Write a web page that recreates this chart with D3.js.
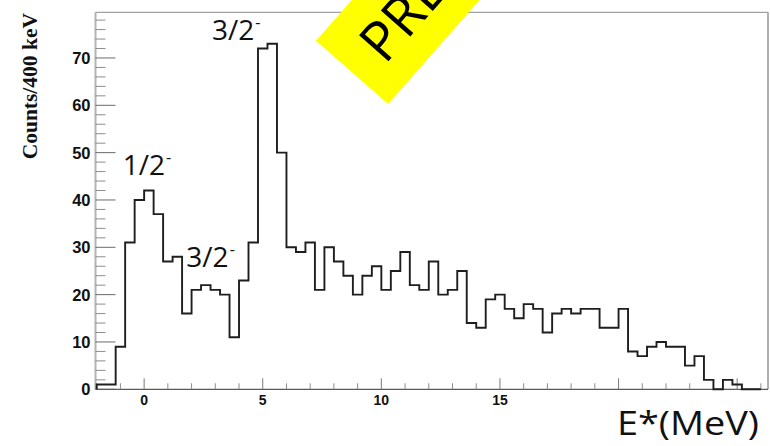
<!DOCTYPE html>
<html>
<head>
<meta charset="utf-8">
<script src="https://cdn.jsdelivr.net/npm/d3@7"></script>
<style>
  html, body { margin: 0; padding: 0; background: #fff; overflow: hidden; }
  svg { display: block; }
</style>
</head>
<body>
<svg id="chart" width="770" height="446"></svg>
<script>
// Excitation-energy spectrum, 0.4 MeV bins starting at -2.0 MeV
const firstEdge = -2.0;
const binWidth = 0.4;
const counts = [
  1, 1, 9, 31, 40, 42, 37, 27, 28, 16,
  21, 22, 21, 20, 11, 23, 31, 72, 73, 50,
  30, 29, 31, 21, 30, 27, 24, 20, 24, 26,
  21, 25, 29, 22, 21, 27, 20, 21, 25, 14,
  13, 19, 20, 17, 15, 18, 17, 12, 16, 17,
  16, 17, 17, 13, 13, 17, 8, 7, 9, 10,
  9, 9, 5, 7, 2, 0, 2, 1, 0, 0
];

// Axis ticks
const xMajorTicks = [0, 5, 10, 15, 20, 25];
const xTickLabels = [0, 5, 10, 15];
const yMajorTicks = [0, 10, 20, 30, 40, 50, 60, 70];

// State assignments written next to the peaks
const stateTexts = ["1/2", "3/2", "3/2"];
const stateAnchorE = [-0.9, 2.86, 1.78];   // MeV
const stateAnchorC = [45.3, 73.8, 25.8];   // counts

const svg = d3.select("#chart");

const x = d3.scaleLinear().domain([-2.05, 26.3]).range([95.5, 768]);
const y = d3.scaleLinear().domain([0, 79.65]).range([389.3, 12.3]);

// Frame (top and right)
svg.append("line").attr("x1", x.range()[0]).attr("x2", x.range()[1])
  .attr("y1", y.range()[1]).attr("y2", y.range()[1])
  .attr("stroke", "#8a8a8a").attr("stroke-width", 1);
svg.append("line").attr("x1", 768).attr("x2", 768)
  .attr("y1", y.range()[1]).attr("y2", y.range()[0])
  .attr("stroke", "#a8a8a8").attr("stroke-width", 1.8);

// Y axis: line, major and minor ticks pointing into the plot
const yAxisG = svg.append("g");
yAxisG.append("line").attr("x1", 95.5).attr("x2", 95.5)
  .attr("y1", y.range()[1]).attr("y2", y.range()[0])
  .attr("stroke", "#b4b4b4").attr("stroke-width", 2);
const yMinor = d3.range(0, 80, 2).filter(v => v % 10 !== 0);
yAxisG.selectAll("line.ymin").data(yMinor).join("line")
  .attr("class", "ymin")
  .attr("x1", 95.5).attr("x2", 105.5)
  .attr("y1", d => y(d)).attr("y2", d => y(d))
  .attr("stroke", "#8c8c8c").attr("stroke-width", 1);
yAxisG.selectAll("line.ymaj").data(yMajorTicks).join("line")
  .attr("class", "ymaj")
  .attr("x1", 95.5).attr("x2", 115.5)
  .attr("y1", d => y(d)).attr("y2", d => y(d))
  .attr("stroke", "#6a6a6a").attr("stroke-width", 1);
yAxisG.selectAll("text").data(yMajorTicks).join("text")
  .attr("x", 90.5).attr("y", d => y(d) + 6)
  .attr("text-anchor", "end")
  .attr("font-family", "'Liberation Sans', Arial, sans-serif")
  .attr("font-weight", "bold").attr("font-size", 16.5)
  .attr("fill", "#111")
  .text(d => d);

// X axis
const xAxisG = svg.append("g");
xAxisG.append("line").attr("x1", x.range()[0]).attr("x2", x.range()[1])
  .attr("y1", 389.3).attr("y2", 389.3)
  .attr("stroke", "#5a5a5a").attr("stroke-width", 1.2);
const xMinor = d3.range(-2, 27, 1).filter(v => v % 5 !== 0);
xAxisG.selectAll("line.xmin").data(xMinor).join("line")
  .attr("class", "xmin")
  .attr("x1", d => x(d)).attr("x2", d => x(d))
  .attr("y1", 389.3).attr("y2", 383.3)
  .attr("stroke", "#8c8c8c").attr("stroke-width", 1);
xAxisG.selectAll("line.xmaj").data(xMajorTicks).join("line")
  .attr("class", "xmaj")
  .attr("x1", d => x(d)).attr("x2", d => x(d))
  .attr("y1", 389.3).attr("y2", 378.3)
  .attr("stroke", "#7a7a7a").attr("stroke-width", 1);
xAxisG.selectAll("text").data(xTickLabels).join("text")
  .attr("x", d => x(d)).attr("y", 405)
  .attr("text-anchor", "middle")
  .attr("font-family", "'Liberation Sans', Arial, sans-serif")
  .attr("font-weight", "bold").attr("font-size", 14)
  .attr("fill", "#111")
  .text(d => d);

// Histogram outline as a step path
const bins = counts.map((c, i) => ({ lo: firstEdge + i * binWidth, hi: firstEdge + (i + 1) * binWidth, c }));
const pts = [[x(bins[0].lo), y(0)]];
bins.forEach(b => { pts.push([x(b.lo), y(b.c)]); pts.push([x(b.hi), y(b.c)]); });
pts.push([x(bins[bins.length - 1].hi), y(0)]);
svg.append("path")
  .attr("d", d3.line()(pts))
  .attr("fill", "none")
  .attr("stroke", "#1e1e1e")
  .attr("stroke-width", 1.9)
  .attr("stroke-linejoin", "miter");

// Y-axis title
svg.append("text")
  .attr("transform", "translate(36.5,13) rotate(-90)")
  .attr("text-anchor", "end")
  .attr("font-family", "'Liberation Serif', 'Times New Roman', serif")
  .attr("font-weight", "bold").attr("font-size", 21.5)
  .attr("fill", "#111")
  .text("Counts/400 keV");

// X-axis title
svg.append("text")
  .attr("x", 759).attr("y", 434.5)
  .attr("text-anchor", "end")
  .attr("font-family", "'Open Sans', sans-serif")
  .attr("font-size", 32)
  .attr("textLength", 142).attr("lengthAdjust", "spacingAndGlyphs")
  .attr("fill", "#111")
  .text("E*(MeV)");

// Spin-parity labels
stateTexts.forEach((t, i) => {
  const lab = svg.append("text")
    .attr("x", x(stateAnchorE[i])).attr("y", y(stateAnchorC[i]))
    .attr("font-family", "'Open Sans', sans-serif")
    .attr("font-size", 28)
    .attr("fill", "#111");
  lab.append("tspan").text(t);
  lab.append("tspan").attr("dx", 1).attr("dy", -12).attr("font-size", 16).text("-");
});

// Preliminary banner (runs off the top edge)
const banner = svg.append("g").attr("transform", "translate(316,40.7) rotate(-48.7)");
banner.append("rect").attr("x", 0).attr("y", 0).attr("width", 520).attr("height", 96)
  .attr("fill", "#ffff00");
banner.append("text")
  .attr("x", 27).attr("y", 68)
  .attr("font-family", "'Open Sans', sans-serif")
  .attr("font-size", 55)
  .attr("fill", "#000")
  .text("PRE");
</script>
</body>
</html>
